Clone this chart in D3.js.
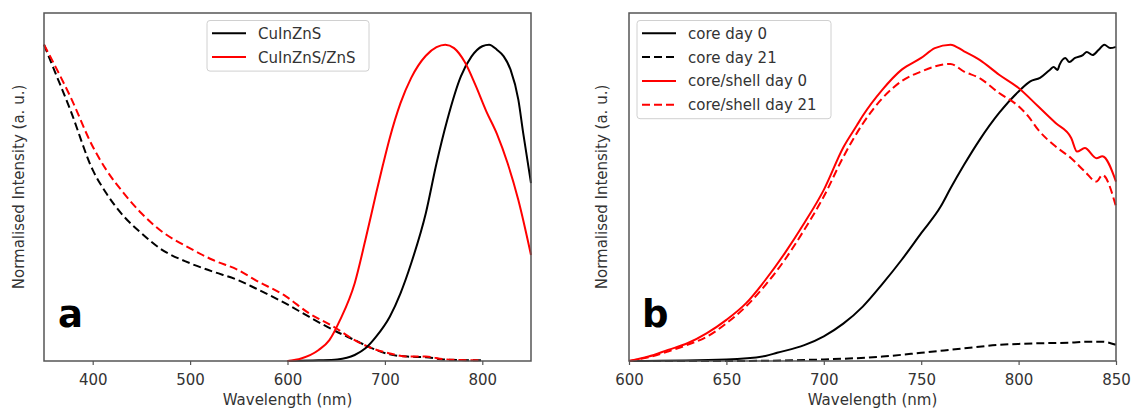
<!DOCTYPE html>
<html>
<head>
<meta charset="utf-8">
<script src="https://cdn.jsdelivr.net/npm/d3@7"></script>
<style>
  body { margin: 0; background: #fff; }
  text { font-family: "DejaVu Sans", sans-serif; fill: #333; }
</style>
</head>
<body>
<div id="container"></div>
<script>
// ---- panel a: absorbance (dashed) + emission (solid)
const emCoreWl  = [600, 632, 651, 669, 680, 691, 705, 716, 727, 742, 753, 764, 778, 789, 800, 807, 815, 822, 829, 837, 842, 850];
const emCoreI   = [0, 0.002, 0.005, 0.019, 0.040, 0.077, 0.140, 0.214, 0.309, 0.467, 0.625, 0.762, 0.900, 0.963, 0.995, 1.0, 0.984, 0.963, 0.921, 0.826, 0.720, 0.562];
const emShellWl = [600, 614, 632, 643, 654, 669, 680, 691, 698, 705, 716, 727, 742, 753, 762, 771, 782, 793, 804, 815, 826, 837, 850];
const emShellI  = [0, 0.008, 0.035, 0.066, 0.130, 0.246, 0.383, 0.530, 0.620, 0.705, 0.815, 0.895, 0.965, 0.992, 1.0, 0.989, 0.945, 0.872, 0.790, 0.718, 0.625, 0.509, 0.335];
const absWl     = [350, 359, 377, 400, 414, 432, 450, 469, 500, 523, 549, 567, 598, 622, 647, 669, 687, 705, 723, 742, 760, 778, 800];
const absCoreI  = [1.0, 0.931, 0.794, 0.604, 0.530, 0.457, 0.404, 0.356, 0.309, 0.283, 0.256, 0.230, 0.182, 0.140, 0.098, 0.066, 0.040, 0.021, 0.014, 0.012, 0.005, 0.003, 0.002];
const absShellI = [1.0, 0.947, 0.836, 0.678, 0.604, 0.530, 0.467, 0.414, 0.356, 0.320, 0.288, 0.256, 0.205, 0.151, 0.109, 0.066, 0.040, 0.024, 0.014, 0.014, 0.006, 0.003, 0.002];

// ---- panel b: emission stability
const coreD0Wl  = [600, 650, 670, 676, 690, 700, 710, 720, 730, 740, 750, 760, 765, 772, 780, 790, 800, 806, 811, 816, 818, 820, 821, 824, 826, 829, 833, 835, 838, 841, 844, 847, 850];
const coreD0I   = [0, 0.005, 0.016, 0.026, 0.050, 0.078, 0.118, 0.172, 0.243, 0.320, 0.404, 0.488, 0.545, 0.620, 0.699, 0.784, 0.852, 0.884, 0.895, 0.920, 0.929, 0.920, 0.936, 0.958, 0.945, 0.958, 0.967, 0.977, 0.967, 0.983, 1.0, 0.989, 0.993];
const coreD21Wl = [600, 650, 700, 730, 750, 772, 790, 800, 810, 827, 834, 843, 850];
const coreD21I  = [0, 0, 0.005, 0.014, 0.026, 0.040, 0.051, 0.054, 0.056, 0.058, 0.061, 0.061, 0.051];
const csD0Wl    = [600, 610, 620, 630, 640, 650, 660, 670, 680, 690, 700, 710, 717, 720, 730, 740, 750, 757, 765, 772, 780, 790, 800, 810, 819, 827, 830, 834, 840, 843, 850];
const csD0I     = [0, 0.014, 0.035, 0.056, 0.088, 0.130, 0.182, 0.256, 0.341, 0.436, 0.541, 0.675, 0.745, 0.775, 0.857, 0.921, 0.958, 0.989, 1.0, 0.979, 0.952, 0.905, 0.863, 0.805, 0.752, 0.705, 0.662, 0.673, 0.641, 0.647, 0.567];
const csD21Wl   = [600, 610, 620, 630, 640, 650, 660, 670, 680, 690, 700, 710, 720, 730, 740, 750, 757, 765, 772, 780, 790, 800, 805, 810, 819, 827, 834, 840, 843, 850];
const csD21I    = [0, 0.012, 0.030, 0.051, 0.077, 0.119, 0.172, 0.240, 0.320, 0.415, 0.520, 0.645, 0.750, 0.830, 0.885, 0.915, 0.931, 0.939, 0.915, 0.894, 0.847, 0.805, 0.773, 0.731, 0.678, 0.641, 0.599, 0.567, 0.588, 0.488];

const ticksA = [400, 500, 600, 700, 800];
const ticksB = [600, 650, 700, 750, 800, 850];

const width = 1131, height = 410;
const svg = d3.select('#container').append('svg')
  .attr('width', width).attr('height', height);

const zip = (xs, ys) => xs.map((x, i) => [x, ys[i]]);

function panel(opt) {
  const x = d3.scaleLinear().domain(opt.domain).range([opt.left, opt.right]);
  const y = d3.scaleLinear().domain([0, 1.1]).range([361, 13]);
  const g = svg.append('g');

  const line = d3.line().x(d => x(d[0])).y(d => y(d[1])).curve(d3.curveMonotoneX);
  opt.series.forEach(s => {
    g.append('path')
      .attr('d', line(zip(s.wl, s.val)))
      .attr('fill', 'none')
      .attr('stroke', s.color)
      .attr('stroke-width', 2)
      .attr('stroke-linejoin', 'round')
      .attr('stroke-dasharray', s.dash ? '8,4' : null);
  });

  // frame
  g.append('rect')
    .attr('x', opt.left).attr('y', 13)
    .attr('width', opt.right - opt.left).attr('height', 348)
    .attr('fill', 'none').attr('stroke', '#555').attr('stroke-width', 1.5);

  const ax = g.append('g').attr('transform', 'translate(0,361)')
    .call(d3.axisBottom(x).tickValues(opt.ticks).tickSize(4).tickPadding(9).tickFormat(d3.format('d')));
  ax.select('.domain').remove();
  ax.selectAll('line').attr('stroke', '#555').attr('stroke-width', 1.2);
  ax.selectAll('text').attr('font-size', 15).attr('font-family', '"DejaVu Sans", sans-serif').attr('fill', '#333');

  g.append('text')
    .attr('x', (opt.left + opt.right) / 2).attr('y', 405)
    .attr('text-anchor', 'middle').attr('font-size', 15)
    .text('Wavelength (nm)');

  g.append('text')
    .attr('transform', `translate(${opt.ylabX},187) rotate(-90)`)
    .attr('text-anchor', 'middle').attr('font-size', 15)
    .text('Normalised Intensity (a. u.)');

  g.append('text')
    .attr('x', opt.letterX).attr('y', 327)
    .attr('font-family', '"Open Sans", sans-serif')
    .attr('font-weight', 'bold').attr('font-size', 37)
    .style('fill', '#000')
    .text(opt.letter);

  // legend
  const lg = opt.legend;
  const rowH = 23.8;
  g.append('rect')
    .attr('x', lg.x).attr('y', 20.5)
    .attr('width', lg.w).attr('height', lg.items.length * rowH + 3)
    .attr('rx', 3)
    .attr('fill', '#fff').attr('fill-opacity', 0.85)
    .attr('stroke', '#d0d0d0').attr('stroke-width', 1);
  lg.items.forEach((it, i) => {
    const cy = 33.3 + i * rowH;
    g.append('line')
      .attr('x1', lg.x + 5).attr('x2', lg.x + 39)
      .attr('y1', cy).attr('y2', cy)
      .attr('stroke', it.color).attr('stroke-width', 2)
      .attr('stroke-dasharray', it.dash ? '8,4' : null);
    g.append('text')
      .attr('x', lg.x + 51).attr('y', cy + 5.5)
      .attr('font-size', 15)
      .text(it.label);
  });
}

panel({
  domain: [350, 850], left: 44, right: 531, ticks: ticksA,
  ylabX: 24, letter: 'a', letterX: 58,
  series: [
    {wl: absWl, val: absCoreI, color: '#000', dash: true},
    {wl: absWl, val: absShellI, color: '#ff0000', dash: true},
    {wl: emCoreWl, val: emCoreI, color: '#000'},
    {wl: emShellWl, val: emShellI, color: '#ff0000'}
  ],
  legend: {x: 207, w: 162, items: [
    {label: 'CuInZnS', color: '#000'},
    {label: 'CuInZnS/ZnS', color: '#ff0000'}
  ]}
});

panel({
  domain: [600, 850], left: 629, right: 1116, ticks: ticksB,
  ylabX: 607, letter: 'b', letterX: 642,
  series: [
    {wl: coreD0Wl, val: coreD0I, color: '#000'},
    {wl: coreD21Wl, val: coreD21I, color: '#000', dash: true},
    {wl: csD0Wl, val: csD0I, color: '#ff0000'},
    {wl: csD21Wl, val: csD21I, color: '#ff0000', dash: true}
  ],
  legend: {x: 637, w: 194, items: [
    {label: 'core day 0', color: '#000'},
    {label: 'core day 21', color: '#000', dash: true},
    {label: 'core/shell day 0', color: '#ff0000'},
    {label: 'core/shell day 21', color: '#ff0000', dash: true}
  ]}
});
</script>
</body>
</html>
